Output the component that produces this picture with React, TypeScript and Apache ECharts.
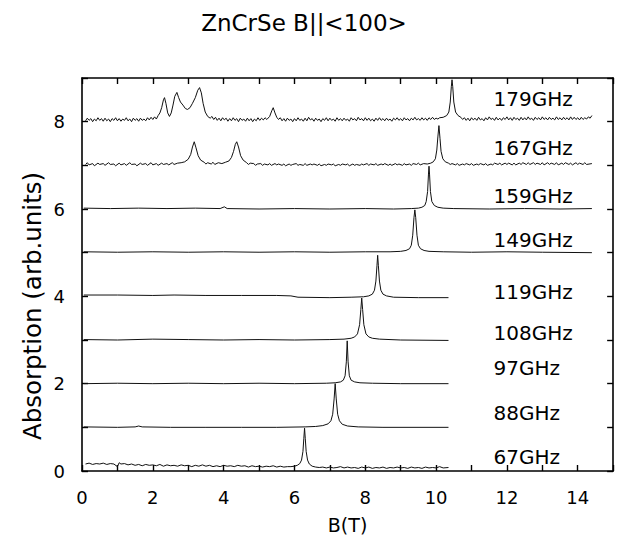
import React, { useEffect, useRef } from "react";
import * as echarts from "echarts";

// EPR absorption spectra of ZnCrSe, B || <100>, offset per frequency.
// Each trace is a list of [B (T), absorption (arb. units)] points.

const FREQUENCIES = ["67GHz", "88GHz", "97GHz", "108GHz", "119GHz", "149GHz", "159GHz", "167GHz", "179GHz"];

const TRACE_67: number[][] = [
  [0.1, 0.16], [0.2, 0.18], [0.3, 0.15], [0.4, 0.17], [0.5, 0.16], [0.6, 0.18], [0.7, 0.15], [0.8, 0.17],
  [0.9, 0.16], [1.0, 0.1], [1.05, 0.19], [1.1, 0.16], [1.2, 0.17], [1.3, 0.14], [1.4, 0.16], [1.5, 0.13],
  [1.6, 0.15], [1.7, 0.12], [1.8, 0.15], [1.9, 0.13], [2.0, 0.14], [2.1, 0.12], [2.2, 0.15], [2.3, 0.11],
  [2.4, 0.14], [2.5, 0.12], [2.6, 0.13], [2.7, 0.11], [2.8, 0.14], [2.9, 0.12], [3.0, 0.13], [3.1, 0.1],
  [3.2, 0.13], [3.3, 0.11], [3.4, 0.14], [3.5, 0.11], [3.6, 0.13], [3.7, 0.1], [3.8, 0.12], [3.9, 0.1],
  [4.0, 0.13], [4.1, 0.11], [4.2, 0.12], [4.3, 0.1], [4.4, 0.13], [4.5, 0.11], [4.6, 0.12], [4.7, 0.09],
  [4.8, 0.12], [4.9, 0.1], [5.0, 0.11], [5.1, 0.09], [5.2, 0.11], [5.3, 0.1], [5.4, 0.12], [5.5, 0.09],
  [5.6, 0.11], [5.7, 0.09], [5.8, 0.1], [5.9, 0.1], [6.0, 0.11], [6.08, 0.13], [6.15, 0.17], [6.2, 0.25],
  [6.24, 0.45], [6.265, 0.75], [6.285, 0.98], [6.305, 0.75], [6.33, 0.45], [6.37, 0.25], [6.42, 0.16],
  [6.5, 0.11], [6.6, 0.09], [6.7, 0.08], [6.8, 0.09], [6.9, 0.07], [7.0, 0.09], [7.1, 0.07], [7.2, 0.08],
  [7.3, 0.1], [7.4, 0.07], [7.5, 0.09], [7.6, 0.07], [7.7, 0.08], [7.8, 0.06], [7.9, 0.09], [8.0, 0.07],
  [8.1, 0.09], [8.2, 0.06], [8.3, 0.08], [8.4, 0.07], [8.5, 0.09], [8.6, 0.06], [8.7, 0.08], [8.8, 0.07],
  [8.9, 0.09], [9.0, 0.07], [9.1, 0.08], [9.2, 0.06], [9.3, 0.09], [9.4, 0.07], [9.5, 0.08], [9.6, 0.06],
  [9.7, 0.09], [9.8, 0.07], [9.9, 0.08], [10.0, 0.07], [10.1, 0.1], [10.2, 0.07], [10.35, 0.08],
];

const TRACE_88: number[][] = [
  [0.05, 1.01], [1.0, 1.0], [1.5, 1.01], [1.6, 1.03], [1.7, 1.01], [2.5, 1.0], [3.5, 1.0], [4.5, 1.0],
  [5.5, 1.0], [6.3, 1.01], [6.6, 1.02], [6.8, 1.04], [6.95, 1.08], [7.03, 1.15], [7.08, 1.3], [7.12, 1.65],
  [7.15, 2.0], [7.18, 1.65], [7.22, 1.3], [7.27, 1.15], [7.35, 1.07], [7.5, 1.03], [7.8, 1.01], [8.5, 1.0],
  [10.35, 1.0],
];

const TRACE_97: number[][] = [
  [0.05, 2.0], [1.0, 2.01], [2.0, 2.0], [3.0, 2.01], [4.0, 2.0], [5.0, 2.01], [6.0, 2.0], [6.9, 2.01],
  [7.15, 2.02], [7.3, 2.04], [7.38, 2.08], [7.43, 2.18], [7.465, 2.5], [7.49, 2.98], [7.515, 2.5],
  [7.55, 2.18], [7.6, 2.08], [7.7, 2.04], [7.85, 2.02], [8.2, 2.01], [9.0, 2.0], [10.35, 2.0],
];

const TRACE_108: number[][] = [
  [0.05, 3.01], [1.0, 3.0], [2.0, 3.02], [3.0, 3.01], [4.0, 3.0], [5.0, 3.01], [6.0, 3.0], [7.0, 3.01],
  [7.4, 3.02], [7.6, 3.04], [7.7, 3.07], [7.78, 3.14], [7.84, 3.35], [7.875, 3.7], [7.9, 3.96],
  [7.925, 3.7], [7.96, 3.35], [8.02, 3.14], [8.1, 3.07], [8.2, 3.04], [8.4, 3.02], [9.0, 3.0], [10.35, 2.99],
];

const TRACE_119: number[][] = [
  [0.05, 4.03], [1.0, 4.03], [2.0, 4.02], [2.6, 4.03], [3.5, 4.02], [4.5, 4.02], [5.5, 4.02], [5.9, 4.01],
  [6.1, 3.98], [7.0, 3.97], [7.6, 3.98], [7.95, 3.99], [8.1, 4.01], [8.2, 4.05], [8.26, 4.14], [8.3, 4.35],
  [8.33, 4.7], [8.35, 4.94], [8.37, 4.7], [8.4, 4.35], [8.44, 4.14], [8.5, 4.05], [8.6, 4.01], [8.8, 3.98],
  [9.5, 3.97], [10.35, 3.97],
];

const TRACE_149: number[][] = [
  [0.05, 5.02], [1.0, 5.01], [2.0, 5.02], [3.0, 5.01], [4.0, 5.02], [5.0, 5.01], [6.0, 5.02], [7.0, 5.01],
  [8.0, 5.02], [8.7, 5.02], [9.0, 5.03], [9.15, 5.05], [9.25, 5.09], [9.3, 5.17], [9.34, 5.4],
  [9.375, 5.8], [9.4, 5.98], [9.425, 5.8], [9.46, 5.4], [9.5, 5.17], [9.56, 5.09], [9.66, 5.05],
  [9.8, 5.03], [10.2, 5.02], [11.0, 5.01], [12.0, 5.02], [13.0, 5.01], [14.4, 5.0],
];

const TRACE_159: number[][] = [
  [0.05, 6.02], [0.8, 6.01], [1.6, 6.02], [2.4, 6.01], [3.2, 6.02], [3.9, 6.01], [4.02, 6.05], [4.1, 6.01],
  [5.0, 6.0], [6.0, 6.01], [7.0, 6.0], [8.0, 6.01], [8.8, 6.0], [9.3, 6.01], [9.5, 6.02], [9.6, 6.04],
  [9.68, 6.08], [9.72, 6.17], [9.76, 6.4], [9.785, 6.8], [9.8, 6.98], [9.815, 6.8], [9.84, 6.4],
  [9.88, 6.17], [9.95, 6.08], [10.05, 6.04], [10.2, 6.02], [10.5, 6.01], [11.5, 6.0], [12.5, 6.01],
  [13.5, 6.0], [14.4, 6.01],
];

const TRACE_167: number[][] = [
  [0.1, 7.02], [0.15, 7.06], [0.2, 7.01], [0.3, 7.04], [0.35, 6.99], [0.45, 7.05], [0.5, 7.02], [0.6, 7.04],
  [0.65, 7.0], [0.75, 7.06], [0.8, 7.02], [0.9, 7.03], [0.95, 6.99], [1.05, 7.05], [1.1, 7.01], [1.2, 7.04],
  [1.25, 7.0], [1.35, 7.06], [1.4, 7.02], [1.5, 7.03], [1.55, 6.99], [1.65, 7.05], [1.7, 7.02], [1.8, 7.04],
  [1.85, 7.0], [1.95, 7.06], [2.0, 7.01], [2.1, 7.04], [2.15, 7.0], [2.25, 7.05], [2.3, 7.02], [2.4, 7.04],
  [2.45, 7.01], [2.55, 7.06], [2.6, 7.02], [2.7, 7.05], [2.8, 7.06], [2.9, 7.08], [3.0, 7.14], [3.07, 7.25],
  [3.12, 7.42], [3.17, 7.54], [3.22, 7.4], [3.28, 7.22], [3.35, 7.12], [3.45, 7.07], [3.5, 7.03],
  [3.55, 7.06], [3.65, 7.03], [3.7, 7.07], [3.75, 7.02], [3.85, 7.06], [3.95, 7.04], [4.05, 7.07],
  [4.15, 7.1], [4.22, 7.18], [4.28, 7.32], [4.33, 7.48], [4.37, 7.54], [4.42, 7.42], [4.48, 7.22],
  [4.55, 7.12], [4.65, 7.06], [4.7, 7.02], [4.75, 7.05], [4.85, 7.04], [4.9, 7.0], [4.95, 7.03],
  [5.05, 7.04], [5.1, 7.0], [5.15, 7.03], [5.25, 7.01], [5.3, 7.04], [5.35, 7.0], [5.45, 7.04],
  [5.5, 7.01], [5.55, 7.03], [5.65, 7.0], [5.7, 7.03], [5.75, 6.99], [5.85, 7.03], [5.9, 7.0], [5.95, 7.02],
  [6.05, 7.04], [6.1, 7.0], [6.15, 7.02], [6.25, 7.0], [6.3, 7.04], [6.35, 7.0], [6.45, 7.03], [6.5, 7.01],
  [6.55, 7.03], [6.65, 7.0], [6.7, 7.03], [6.75, 6.99], [6.85, 7.02], [6.9, 7.0], [6.95, 7.03],
  [7.05, 7.01], [7.1, 7.03], [7.15, 6.99], [7.25, 7.02], [7.3, 7.0], [7.35, 7.03], [7.45, 7.01],
  [7.5, 7.03], [7.55, 6.99], [7.65, 7.03], [7.7, 7.0], [7.75, 7.02], [7.85, 7.0], [7.9, 7.03], [7.95, 7.01],
  [8.05, 7.04], [8.1, 7.0], [8.15, 7.03], [8.25, 7.01], [8.3, 7.04], [8.35, 7.0], [8.45, 7.03],
  [8.5, 7.01], [8.55, 7.04], [8.65, 7.0], [8.7, 7.03], [8.75, 7.0], [8.85, 7.04], [8.9, 7.01], [8.95, 7.03],
  [9.05, 7.0], [9.1, 7.04], [9.15, 7.01], [9.25, 7.03], [9.3, 7.0], [9.35, 7.04], [9.45, 7.02],
  [9.5, 7.05], [9.55, 7.01], [9.65, 7.04], [9.75, 7.03], [9.85, 7.05], [9.92, 7.08], [9.98, 7.15],
  [10.02, 7.35], [10.05, 7.65], [10.08, 7.91], [10.11, 7.62], [10.14, 7.32], [10.19, 7.15], [10.26, 7.08],
  [10.35, 7.05], [10.4, 7.02], [10.45, 7.04], [10.55, 7.01], [10.6, 7.04], [10.65, 7.0], [10.75, 7.03],
  [10.8, 7.01], [10.85, 7.04], [10.95, 7.01], [11.0, 7.04], [11.05, 7.0], [11.15, 7.03], [11.2, 7.01],
  [11.25, 7.04], [11.35, 7.01], [11.4, 7.04], [11.45, 7.0], [11.55, 7.03], [11.6, 7.01], [11.65, 7.05],
  [11.75, 7.02], [11.8, 7.05], [11.85, 7.01], [11.95, 7.05], [12.0, 7.02], [12.05, 7.05], [12.15, 7.01],
  [12.2, 7.05], [12.25, 7.01], [12.35, 7.05], [12.4, 7.02], [12.45, 7.06], [12.55, 7.02], [12.6, 7.06],
  [12.65, 7.02], [12.75, 7.06], [12.8, 7.02], [12.85, 7.05], [12.95, 7.02], [13.0, 7.06], [13.05, 7.01],
  [13.15, 7.06], [13.2, 7.02], [13.25, 7.05], [13.35, 7.02], [13.4, 7.06], [13.45, 7.01], [13.55, 7.05],
  [13.6, 7.02], [13.65, 7.06], [13.75, 7.02], [13.8, 7.05], [13.85, 7.01], [13.95, 7.06], [14.0, 7.02],
  [14.05, 7.05], [14.15, 7.02], [14.2, 7.06], [14.25, 7.02], [14.4, 7.04],
];

const TRACE_179: number[][] = [
  [0.1, 8.02], [0.15, 8.08], [0.2, 8.03], [0.25, 8.07], [0.3, 8.0], [0.35, 8.06], [0.4, 8.02], [0.45, 8.09],
  [0.5, 8.03], [0.55, 8.07], [0.6, 8.01], [0.65, 8.08], [0.7, 8.02], [0.75, 8.06], [0.8, 8.0], [0.85, 8.07],
  [0.9, 8.03], [0.95, 8.09], [1.0, 8.02], [1.05, 8.07], [1.1, 8.01], [1.15, 8.06], [1.2, 8.03], [1.25, 8.09],
  [1.3, 8.02], [1.35, 8.06], [1.4, 8.0], [1.45, 8.08], [1.5, 8.03], [1.55, 8.07], [1.6, 8.01], [1.65, 8.08],
  [1.7, 8.03], [1.75, 8.06], [1.8, 8.02], [1.85, 8.09], [1.9, 8.04], [1.95, 8.1], [2.0, 8.05], [2.05, 8.11],
  [2.1, 8.06], [2.15, 8.14], [2.2, 8.2], [2.25, 8.32], [2.3, 8.5], [2.33, 8.55], [2.37, 8.42], [2.42, 8.2],
  [2.47, 8.12], [2.52, 8.2], [2.57, 8.38], [2.62, 8.58], [2.68, 8.67], [2.73, 8.55], [2.78, 8.45],
  [2.85, 8.38], [2.92, 8.3], [2.98, 8.28], [3.05, 8.32], [3.12, 8.42], [3.2, 8.55], [3.27, 8.72],
  [3.32, 8.78], [3.37, 8.66], [3.42, 8.42], [3.48, 8.22], [3.55, 8.12], [3.62, 8.08], [3.67, 8.12],
  [3.72, 8.05], [3.77, 8.1], [3.82, 8.03], [3.87, 8.08], [3.92, 8.02], [3.97, 8.09], [4.02, 8.04],
  [4.07, 8.08], [4.12, 8.01], [4.17, 8.07], [4.22, 8.02], [4.27, 8.09], [4.32, 8.03], [4.37, 8.07],
  [4.42, 8.0], [4.47, 8.08], [4.52, 8.03], [4.57, 8.06], [4.62, 8.01], [4.67, 8.08], [4.72, 8.02],
  [4.77, 8.07], [4.82, 8.0], [4.87, 8.06], [4.92, 8.02], [4.97, 8.09], [5.02, 8.03], [5.07, 8.08],
  [5.12, 8.04], [5.17, 8.09], [5.22, 8.05], [5.3, 8.12], [5.36, 8.25], [5.4, 8.32], [5.45, 8.2], [5.5, 8.1],
  [5.55, 8.05], [5.6, 8.09], [5.65, 8.02], [5.7, 8.07], [5.75, 8.01], [5.8, 8.08], [5.85, 8.03],
  [5.9, 8.06], [5.95, 8.0], [6.0, 8.07], [6.05, 8.02], [6.1, 8.09], [6.15, 8.03], [6.2, 8.06], [6.25, 8.01],
  [6.3, 8.08], [6.35, 8.02], [6.4, 8.1], [6.45, 8.04], [6.5, 8.07], [6.55, 8.01], [6.6, 8.08], [6.65, 8.03],
  [6.7, 8.06], [6.75, 8.0], [6.8, 8.07], [6.85, 8.03], [6.9, 8.09], [6.95, 8.02], [7.0, 8.08], [7.05, 8.03],
  [7.1, 8.06], [7.15, 8.01], [7.2, 8.09], [7.25, 8.03], [7.3, 8.07], [7.35, 8.02], [7.4, 8.08], [7.45, 8.03],
  [7.5, 8.06], [7.55, 8.01], [7.6, 8.09], [7.65, 8.04], [7.7, 8.07], [7.75, 8.02], [7.8, 8.1], [7.85, 8.04],
  [7.9, 8.07], [7.95, 8.02], [8.0, 8.09], [8.05, 8.03], [8.1, 8.08], [8.15, 8.02], [8.2, 8.06], [8.25, 8.01],
  [8.3, 8.08], [8.35, 8.03], [8.4, 8.09], [8.45, 8.03], [8.5, 8.07], [8.55, 8.02], [8.6, 8.08], [8.65, 8.03],
  [8.7, 8.06], [8.75, 8.01], [8.8, 8.08], [8.85, 8.04], [8.9, 8.09], [8.95, 8.03], [9.0, 8.07], [9.05, 8.02],
  [9.1, 8.09], [9.15, 8.04], [9.2, 8.07], [9.25, 8.02], [9.3, 8.08], [9.35, 8.04], [9.4, 8.1], [9.45, 8.04],
  [9.5, 8.07], [9.55, 8.03], [9.6, 8.09], [9.65, 8.04], [9.7, 8.08], [9.75, 8.03], [9.8, 8.09], [9.85, 8.05],
  [9.9, 8.1], [9.95, 8.05], [10.0, 8.08], [10.05, 8.06], [10.1, 8.09], [10.2, 8.1], [10.3, 8.14],
  [10.36, 8.22], [10.4, 8.45], [10.43, 8.8], [10.45, 8.96], [10.47, 8.8], [10.5, 8.45], [10.55, 8.22],
  [10.62, 8.14], [10.7, 8.1], [10.75, 8.05], [10.8, 8.09], [10.85, 8.03], [10.9, 8.08], [10.95, 8.02],
  [11.0, 8.09], [11.05, 8.04], [11.1, 8.08], [11.15, 8.03], [11.2, 8.1], [11.25, 8.04], [11.3, 8.07],
  [11.35, 8.02], [11.4, 8.09], [11.45, 8.04], [11.5, 8.11], [11.55, 8.05], [11.6, 8.08], [11.65, 8.03],
  [11.7, 8.1], [11.75, 8.04], [11.8, 8.08], [11.85, 8.03], [11.9, 8.09], [11.95, 8.05], [12.0, 8.11],
  [12.05, 8.04], [12.1, 8.09], [12.15, 8.03], [12.2, 8.1], [12.25, 8.05], [12.3, 8.08], [12.35, 8.03],
  [12.4, 8.1], [12.45, 8.04], [12.5, 8.09], [12.55, 8.04], [12.6, 8.11], [12.65, 8.05], [12.7, 8.08],
  [12.75, 8.03], [12.8, 8.1], [12.85, 8.05], [12.9, 8.09], [12.95, 8.04], [13.0, 8.11], [13.05, 8.05],
  [13.1, 8.09], [13.15, 8.04], [13.2, 8.1], [13.25, 8.05], [13.3, 8.08], [13.35, 8.04], [13.4, 8.11],
  [13.45, 8.05], [13.5, 8.09], [13.55, 8.04], [13.6, 8.1], [13.65, 8.05], [13.7, 8.09], [13.75, 8.04],
  [13.8, 8.11], [13.85, 8.05], [13.9, 8.1], [13.95, 8.05], [14.0, 8.09], [14.05, 8.04], [14.1, 8.1],
  [14.15, 8.05], [14.2, 8.09], [14.25, 8.06], [14.3, 8.11], [14.35, 8.08], [14.4, 8.14],
];

const TRACES = [TRACE_67, TRACE_88, TRACE_97, TRACE_108, TRACE_119, TRACE_149, TRACE_159, TRACE_167, TRACE_179];

// Where each frequency tag sits, in [B, absorption] units
const TAG_B = 11.62;
const TAG_LEVELS = [0.32, 1.33, 2.36, 3.15, 4.11, 5.29, 6.3, 7.4, 8.51];

const X_TICK_LABELS = [0, 2, 4, 6, 8, 10, 12, 14];
const Y_TICK_LABELS = [0, 2, 4, 6, 8];

const FONT = "DejaVu Sans";
const INK = "#000";

// One side of the plot frame: axis line with inward ticks at every unit
function frameAxis(position: string, max: number, labels: number[] | null, margin: number) {
  return {
    type: "value",
    position,
    min: 0,
    max,
    interval: 1,
    axisLine: { show: true, onZero: false, lineStyle: { color: INK, width: 1.6 } },
    axisTick: { show: true, inside: true, length: 6, lineStyle: { color: INK, width: 1.4 } },
    splitLine: { show: false },
    axisLabel: labels
      ? {
          show: true,
          margin,
          fontFamily: FONT,
          fontSize: 18,
          color: INK,
          formatter: (v: number) => (labels.includes(v) ? String(v) : " "),
        }
      : { show: false },
  };
}

export default function App() {
  const ref = useRef<HTMLDivElement>(null);

  useEffect(() => {
    if (!ref.current) return;
    const chart = echarts.init(ref.current, undefined, { renderer: "svg" });

    const lineSeries = TRACES.map((data, i) => ({
      name: FREQUENCIES[i],
      type: "line",
      data,
      symbol: "none",
      showSymbol: false,
      silent: true,
      lineStyle: { color: "#111", width: 1 },
      z: 2,
    }));

    chart.setOption({
      animation: false,
      title: {
        text: "ZnCrSe B||<100>",
        left: 299,
        top: 6,
        textAlign: "center",
        textStyle: { fontFamily: FONT, fontSize: 23, fontWeight: "normal", color: INK },
      },
      grid: { left: 82, right: 4, top: 78, bottom: 59 },
      xAxis: [
        {
          ...frameAxis("bottom", 15, X_TICK_LABELS, 17),
          name: "B(T)",
          nameLocation: "middle",
          nameGap: 44,
          nameTextStyle: { fontFamily: FONT, fontSize: 19, color: INK },
        },
        frameAxis("top", 15, null, 0),
      ],
      yAxis: [frameAxis("left", 9, Y_TICK_LABELS, 17), frameAxis("right", 9, null, 0)],
      graphic: [
        {
          type: "text",
          silent: true,
          x: 32,
          y: 306,
          rotation: Math.PI / 2,
          style: {
            text: "Absorption (arb.units)",
            fontFamily: FONT,
            fontSize: 24.5,
            fill: INK,
            align: "center",
            verticalAlign: "middle",
          },
        },
      ],
      series: [
        ...lineSeries,
        {
          name: "tags",
          type: "scatter",
          silent: true,
          symbolSize: 0,
          itemStyle: { opacity: 1 },
          data: FREQUENCIES.map((f, i) => ({ name: f, value: [TAG_B, TAG_LEVELS[i]] })),
          label: {
            show: true,
            position: [0, 0],
            align: "left",
            verticalAlign: "middle",
            formatter: (p: any) => p.name,
            fontFamily: FONT,
            fontSize: 20,
            color: INK,
          },
          z: 3,
        },
      ],
    });

    return () => chart.dispose();
  }, []);

  return (
    <div
      ref={ref}
      style={{ position: "fixed", left: 0, top: 0, width: 619, height: 539, background: "#fff" }}
    />
  );
}
